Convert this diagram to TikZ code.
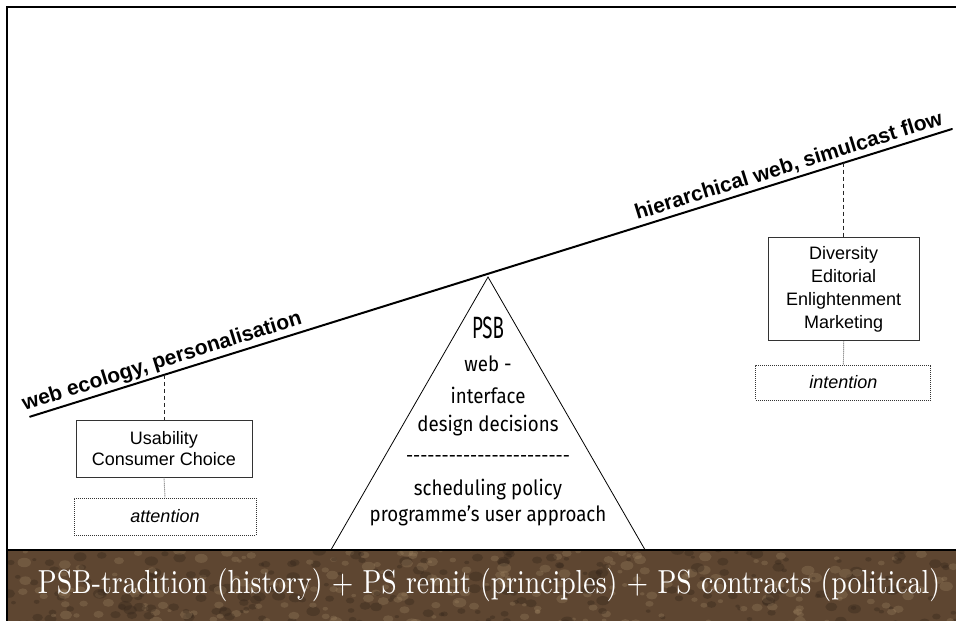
\documentclass[tikz,border=0pt]{standalone}
\usepackage{fontspec}
\usepackage{graphicx}
\newfontfamily\arialf{Liberation Sans}
\newfontfamily\condf[FakeStretch=0.89]{Fira Sans}
\usetikzlibrary{calc}
\definecolor{bandA}{HTML}{5E4631}
\definecolor{bandL}{HTML}{A08664}
\definecolor{bandD}{HTML}{33251A}
\begin{document}
\begin{tikzpicture}[x=1pt,y=-1pt,
  beam/.style={line width=2pt, line cap=round},
  lbl/.style={font=\arialf\bfseries\fontsize{21}{24}\selectfont, inner sep=0pt, rotate=17.33},
  box/.style={draw=black!80, line width=0.9pt, fill=white, align=center, inner sep=0pt,
    font=\arialf\fontsize{18}{22}\selectfont},
  dotbox/.style={draw=black!80, line width=1pt, dash pattern=on 1pt off 1pt, align=center, inner sep=0pt,
    font=\arialf\itshape\fontsize{18}{22}\selectfont},
  dashcon/.style={draw=black!85, line width=0.9pt, dash pattern=on 4pt off 3pt},
  dotcon/.style={draw=black!60, line width=0.9pt, dash pattern=on 1pt off 1pt},
  tri/.style={draw=black, line width=0.8pt},
  tritxt/.style={font=\condf\fontsize{21}{24}\selectfont, inner sep=0pt, anchor=base},
]
\useasboundingbox (0,0) rectangle (956,621);

% beam
\coordinate (L) at (30,416.7);
\coordinate (R) at (952,129);
\coordinate (apex) at (488,277);
\coordinate (bl) at (328,555);
\coordinate (br) at (648,555);
\draw[tri] (apex) -- (bl) -- (br) -- cycle;
\draw[beam] (L) -- (R);
\coordinate (p1) at ($(L)!0.1457!(R)$);
\coordinate (p2) at ($(L)!0.8832!(R)$);

% slanted labels
\node[lbl, anchor=base west] (lab1) at (24.5,410.5) {web ecology, personalisation};
\node[lbl, anchor=base east] (lab2) at (944,124.2) {hierarchical web, simulcast flow};

% boxes
\node[box, minimum width=176pt, minimum height=57pt, font=\arialf\fontsize{18}{21.7}\selectfont] (usab) at (164,448.5) {Usability\\Consumer Choice};
\node[dotbox, minimum width=182pt, minimum height=37pt] (attn) at (165,516.5) {attention};
\node[box, minimum width=151pt, minimum height=103pt, font=\arialf\fontsize{18}{23}\selectfont] (div) at (843.7,289.4) {Diversity\\Editorial\\Enlightenment\\Marketing};
\node[dotbox, minimum width=175pt, minimum height=35pt] (intn) at (843.4,382.5) {intention};

\draw[dashcon] (p1 -| usab.north) -- (usab.north);
\draw[dotcon] (usab.south) -- (attn.north);
\draw[dashcon] (p2 -| div.north) -- (div.north);
\draw[dotcon] (div.south) -- (intn.north);

% triangle text
\node[tritxt] (t1) at (488,338.3) {\resizebox{32pt}{21.6pt}{PSB}};
\node[tritxt] (t2) at (488,371.7) {web -};
\node[tritxt] (t3) at (488,403) {interface};
\node[tritxt] (t4) at (488,431.7) {design decisions};
\node[tritxt] (t5) at (488,462) {\resizebox{164pt}{!}{-{}-{}-{}-{}-{}-{}-{}-{}-{}-{}-{}-{}-{}-{}-{}-{}-{}-{}-{}-{}-{}-{}-}};
\node[tritxt] (t6) at (488,495.5) {scheduling policy};
\node[tritxt] (t7) at (488,521.7) {programme’s user approach};

% band
\begin{scope}
  \clip (7,550) rectangle (960,625);
  \fill[bandA] (7,550) rectangle (960,625);
  \pgfmathsetseed{7}
  \foreach \i in {1,...,450}{
    \pgfmathsetmacro{\rx}{7+950*rnd}
    \pgfmathsetmacro{\ry}{548+76*rnd}
    \pgfmathsetmacro{\rs}{2+5*rnd}
    \pgfmathsetmacro{\rc}{rnd}
    \ifdim\rc pt<0.5pt
      \fill[bandL, opacity=0.3] (\rx,\ry) ellipse[x radius=\rs, y radius=0.7*\rs];
    \else
      \fill[bandD, opacity=0.35] (\rx,\ry) ellipse[x radius=\rs, y radius=0.7*\rs];
    \fi
  }
\end{scope}
\draw[line width=1.2pt] (7,550) -- (960,550);
\node[anchor=base, inner sep=0pt, text=white] (tradition) at (489,593)
  {\resizebox{902pt}{25pt}{PSB-tradition (history) + PS remit (principles) + PS contracts (political)}};

% frame
\draw[line width=2.4pt] (7,630) -- (7,7) -- (965,7);
\end{tikzpicture}
\end{document}
